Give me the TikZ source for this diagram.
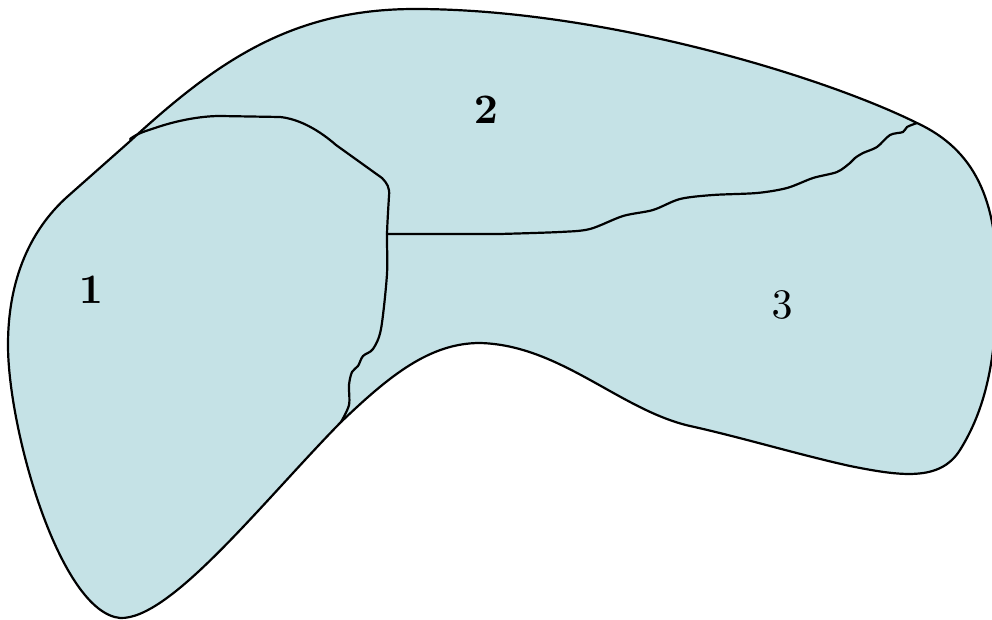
\documentclass[tikz,border=0pt]{standalone}
\usepackage{graphicx}
\definecolor{regionfill}{RGB}{197,226,230}
\begin{document}
\begin{tikzpicture}[x=0.5pt,y=-0.5pt,
  outline/.style={line width=1.1pt,line join=round,line cap=round},
  lbl/.style={font=\normalsize}]
\useasboundingbox (0,0) rectangle (992,620);
% outer shape
\draw[outline,fill=regionfill]
  (67,197) -- (128,143)
  .. controls (215,63) and (290,9) .. (415,9)
  .. controls (600,9) and (820,75) .. (917,123)
  .. controls (975,150) and (997,200) .. (997,280)
  .. controls (997,360) and (985,410) .. (960,450)
  .. controls (940,482) and (900,476) .. (850,466)
  .. controls (800,455) and (740,437) .. (690,426)
  .. controls (620,410) and (560,345) .. (480,343)
  .. controls (430,343) and (390,375) .. (340,423)
  .. controls (260,505) and (170,620) .. (120,618)
  .. controls (60,612) and (8,430) .. (8,345)
  .. controls (8,270) and (37,224) .. (67,197) -- cycle;
% boundary of region 1
\draw[outline] (130,139) .. controls (138,133) and (146,131) .. (155,128)
  .. controls (175,121) and (200,116) .. (220,116)
  -- (280,117) .. controls (300,119) and (320,131) .. (336,145)
  -- (382,178) .. controls (387,183) and (390,188) .. (389,196)
  plot[smooth,tension=0.5] coordinates {
 (389,196) (387,234) (387,274) (381,329) (373,349) (363,356) (358,366)
 (352,372) (349,385) (349,405) (341,422)};
% boundary between regions 2 and 3
\draw[outline] (387,234) -- (500,234) plot[smooth,tension=0.5] coordinates {
 (500,234) (560,232) (590,229) (623,216) (653,210) (680,199) (713,195) (757,193)
 (787,188) (813,178) (837,172) (850,163) (855,158) (863,153) (877,147) (890,135)
 (903,132) (907,127) (917,123)};
\node[lbl] (r1) at (91,290) {\scalebox{2.1}{$\mathbf{1}$}};
\node[lbl] (r2) at (486,110) {\scalebox{2.1}{$\mathbf{2}$}};
\node[lbl] (r3) at (782,305) {\scalebox{2.1}{$3$}};
\end{tikzpicture}
\end{document}
